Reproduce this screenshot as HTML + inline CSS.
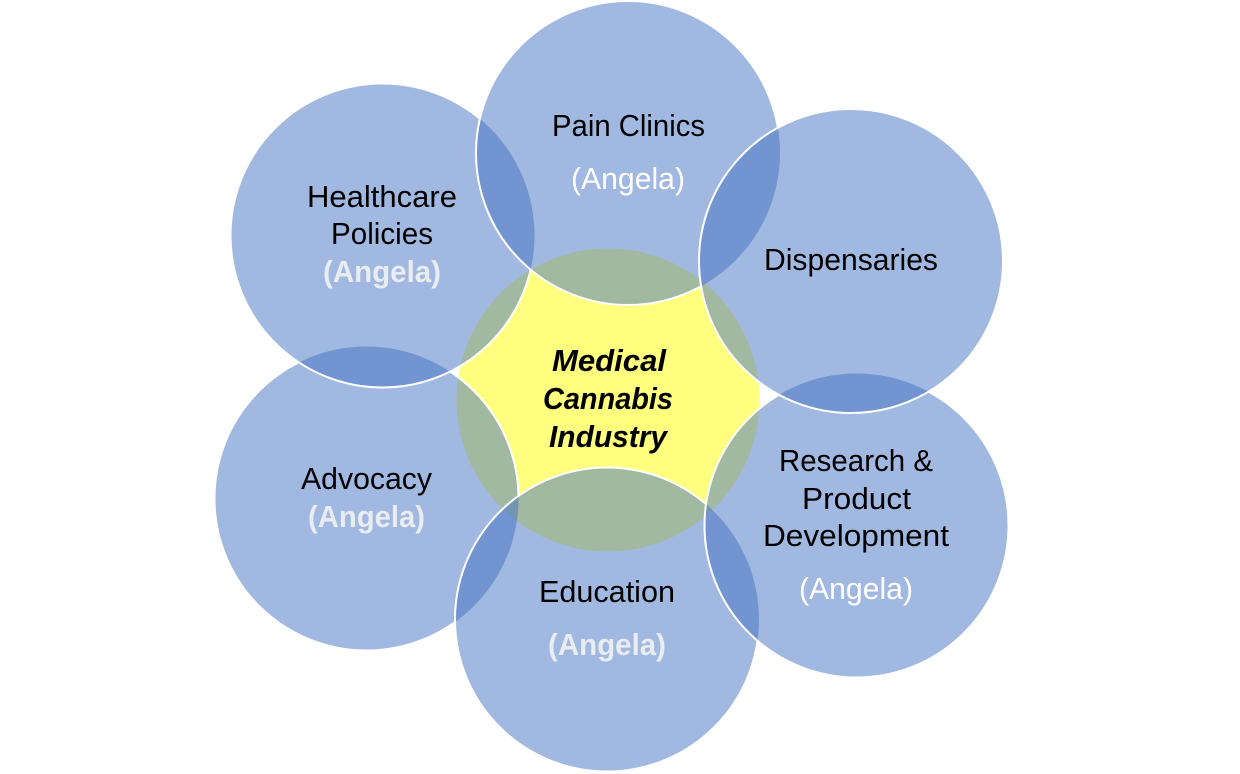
<!DOCTYPE html>
<html lang="en">
<head>
<meta charset="utf-8">
<title>Medical Cannabis Industry</title>
<style>
html,body{margin:0;padding:0;background:#fff;width:1240px;height:774px;overflow:hidden}
svg{display:block}
text{font-family:"Liberation Sans",sans-serif;font-size:30.500px;fill:#000}
.w{fill:#fff}
.b{fill:#E9ECF1;font-weight:bold}
.c{font-weight:bold;font-style:italic}
</style>
</head>
<body>
<svg width="1240" height="774" viewBox="0 0 1240 774" xmlns="http://www.w3.org/2000/svg">
<defs>
<mask id="mPain" maskUnits="userSpaceOnUse" x="0" y="0" width="1240" height="774"><rect width="1240" height="774" fill="#fff"/><circle cx="851" cy="261" r="152" fill="#000"/></mask>
<mask id="mHealth" maskUnits="userSpaceOnUse" x="0" y="0" width="1240" height="774"><rect width="1240" height="774" fill="#fff"/><circle cx="628" cy="153" r="152" fill="#000"/></mask>
<mask id="mAdv" maskUnits="userSpaceOnUse" x="0" y="0" width="1240" height="774"><rect width="1240" height="774" fill="#fff"/><circle cx="382.500" cy="235.500" r="152" fill="#000"/><circle cx="607" cy="619.500" r="152" fill="#000"/></mask>
<mask id="mEdu" maskUnits="userSpaceOnUse" x="0" y="0" width="1240" height="774"><rect width="1240" height="774" fill="#fff"/><circle cx="856.500" cy="525.500" r="152" fill="#000"/></mask>
<mask id="mRes" maskUnits="userSpaceOnUse" x="0" y="0" width="1240" height="774"><rect width="1240" height="774" fill="#fff"/><circle cx="851" cy="261" r="152" fill="#000"/></mask>
</defs>

<circle cx="608" cy="400" r="151.500" fill="#FFFF00" fill-opacity="0.5"/>

<g fill="#4472C4" fill-opacity="0.5">
<circle cx="628" cy="153" r="152"/>
<circle cx="851" cy="261" r="152"/>
<circle cx="856.500" cy="525.500" r="152"/>
<circle cx="607" cy="619.500" r="152"/>
<circle cx="366.500" cy="498.500" r="152"/>
<circle cx="382.500" cy="235.500" r="152"/>
</g>

<g fill="none" stroke="#fff" stroke-width="2">
<circle cx="628" cy="153" r="152" mask="url(#mPain)"/>
<circle cx="851" cy="261" r="152"/>
<circle cx="856.500" cy="525.500" r="152" mask="url(#mRes)"/>
<circle cx="607" cy="619.500" r="152" mask="url(#mEdu)"/>
<circle cx="366.500" cy="498.500" r="152" mask="url(#mAdv)"/>
<circle cx="382.500" cy="235.500" r="152" mask="url(#mHealth)"/>
</g>

<text x="552" y="136" textLength="153" lengthAdjust="spacingAndGlyphs">Pain Clinics</text>
<text class="w" x="571" y="189" textLength="114" lengthAdjust="spacingAndGlyphs">(Angela)</text>

<text x="307" y="207" textLength="150" lengthAdjust="spacingAndGlyphs">Healthcare</text>
<text x="331" y="244" textLength="102" lengthAdjust="spacingAndGlyphs">Policies</text>
<text class="b" x="323" y="282" textLength="118" lengthAdjust="spacingAndGlyphs">(Angela)</text>

<text x="764" y="270" textLength="174" lengthAdjust="spacingAndGlyphs">Dispensaries</text>

<text class="c" x="552" y="371" textLength="114" lengthAdjust="spacingAndGlyphs">Medical</text>
<text class="c" x="543" y="409" textLength="130" lengthAdjust="spacingAndGlyphs">Cannabis</text>
<text class="c" x="549" y="447" textLength="118" lengthAdjust="spacingAndGlyphs">Industry</text>

<text x="779" y="471" textLength="154" lengthAdjust="spacingAndGlyphs">Research &amp;</text>
<text x="802" y="509" textLength="109" lengthAdjust="spacingAndGlyphs">Product</text>
<text x="763" y="546" textLength="186" lengthAdjust="spacingAndGlyphs">Development</text>
<text class="w" x="799" y="599" textLength="114" lengthAdjust="spacingAndGlyphs">(Angela)</text>

<text x="301" y="489" textLength="131" lengthAdjust="spacingAndGlyphs">Advocacy</text>
<text class="b" x="308" y="527" textLength="117" lengthAdjust="spacingAndGlyphs">(Angela)</text>

<text x="539" y="602" textLength="136" lengthAdjust="spacingAndGlyphs">Education</text>
<text class="b" x="548" y="655" textLength="118" lengthAdjust="spacingAndGlyphs">(Angela)</text>
</svg>
</body>
</html>
